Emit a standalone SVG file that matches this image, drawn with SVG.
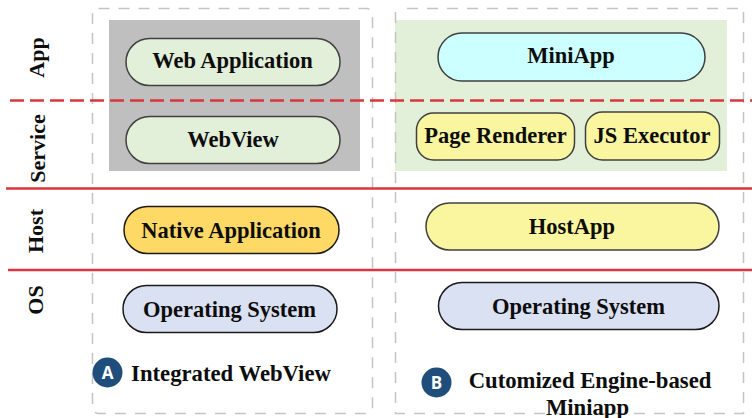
<svg xmlns="http://www.w3.org/2000/svg" width="752" height="418" viewBox="0 0 752 418">
<style>
text{font-family:"Liberation Serif","Times New Roman",serif;font-weight:700;fill:#0d0d0d;text-anchor:middle}
.l{font-size:22px}
.n{font-size:22.500px}
.c{font-size:22.700px}
.p{stroke:#404040;stroke-width:1.5}
.k{stroke:#1a1a1a;stroke-width:1.5}
.frame{fill:none;stroke:#c4c4c4;stroke-width:1.5;stroke-dasharray:11 9}
.red{fill:none;stroke:#d9363e;stroke-width:2.400}
.badge{fill:#1f4e7d}
.bt{font-family:"Open Sans","Liberation Sans",sans-serif;font-size:17px;fill:#fff}
</style>
<rect width="752" height="418" fill="#fff"/>
<g id="backgrounds">
<rect x="109" y="20" width="251" height="151" fill="#bfbfbf"/>
<rect x="395" y="20" width="332" height="151" fill="#e2efd9"/>
</g>
<g id="frames">
<rect class="frame" x="92.500" y="8.500" width="280" height="405" rx="6"/>
<path class="frame" d="M395.500 12V413.500H743.500V8.500H400"/>
</g>
<g id="connectors">
<path class="red" d="M10 100.500H752" stroke-dasharray="14 6"/>
<path class="red" d="M6 188.500H752"/>
<path class="red" d="M8 270H752"/>
</g>
<g id="row-labels">
<text class="l" transform="translate(44 57.500) rotate(-90)">App</text>
<text class="l" transform="translate(45 148.500) rotate(-90)">Service</text>
<text class="l" transform="translate(43 231) rotate(-90)">Host</text>
<text class="l" transform="translate(43 300) rotate(-90)">OS</text>
</g>
<g id="web-application"><rect class="p" x="126" y="38.500" width="214" height="47" rx="23.500" fill="#e2efd9"/><text class="n" x="232.500" y="68">Web Application</text></g>
<g id="webview"><rect class="p" x="126" y="116.500" width="214" height="47" rx="23.500" fill="#e2efd9"/><text class="n" x="233" y="146.500">WebView</text></g>
<g id="native-application"><rect class="k" x="124" y="206.500" width="215" height="47" rx="23.500" fill="#ffd966"/><text class="n" x="231" y="238">Native Application</text></g>
<g id="os-a"><rect class="k" x="123" y="285.500" width="214" height="47" rx="23.500" fill="#dae1f3"/><text class="n" x="229.500" y="316.500">Operating System</text></g>
<g id="miniapp"><rect class="p" x="438" y="33" width="267" height="48" rx="24" fill="#ccffff"/><text class="n" x="571" y="63">MiniApp</text></g>
<g id="page-renderer"><rect class="p" x="416.500" y="113" width="158" height="47" rx="17" fill="#faf6a0"/><text class="n" x="495.500" y="143">Page Renderer</text></g>
<g id="js-executor"><rect class="p" x="585.500" y="112" width="134" height="48" rx="17" fill="#faf6a0"/><text class="n" x="652" y="143">JS Executor</text></g>
<g id="hostapp"><rect class="p" x="426" y="203" width="293" height="47" rx="23.500" fill="#faf6a0"/><text class="n" x="572" y="234">HostApp</text></g>
<g id="os-b"><rect class="k" x="438.500" y="282.500" width="280.500" height="47" rx="23.500" fill="#dae1f3"/><text class="n" x="578.500" y="313.500">Operating System</text></g>
<g id="caption-a"><circle class="badge" cx="107.500" cy="372.500" r="15"/><text class="bt" x="107.500" y="379">A</text><text class="c" x="231" y="380.500">Integrated WebView</text></g>
<g id="caption-b"><circle class="badge" cx="436.500" cy="382.500" r="15"/><text class="bt" x="436.500" y="388.500">B</text><text class="c" x="590" y="388">Cutomized Engine-based</text><text class="c" x="587.500" y="415">Miniapp</text></g>
</svg>
